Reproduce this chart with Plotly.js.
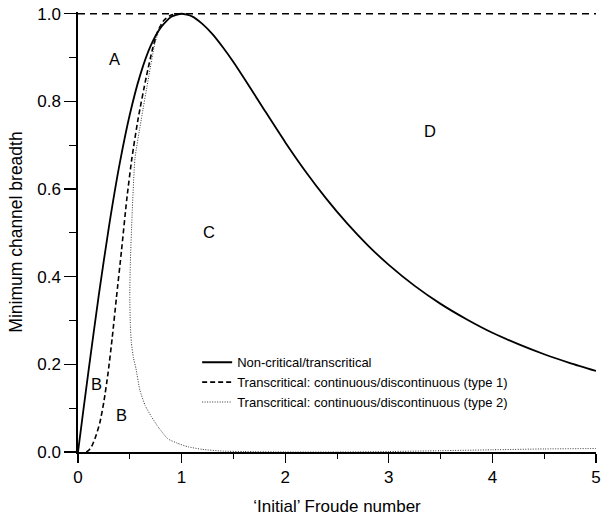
<!DOCTYPE html>
<html>
<head>
<meta charset="utf-8">
<script src="https://cdn.plot.ly/plotly-3.0.1.min.js"></script>
<style>html,body{margin:0;padding:0;background:#fff;}#chart{width:602px;height:518px;}</style>
</head>
<body>
<div id="chart"></div>
<script>
// Non-critical/transcritical boundary (solid)
const xSolid = [0,0.05,0.1,0.2,0.3,0.4,0.5,0.6,0.7,0.8,0.9,1.0,1.1,1.2,1.3,1.4,1.5,1.6,1.8,2.0,2.2,2.4,2.6,2.8,3.0,3.25,3.5,3.75,4.0,4.25,4.5,4.75,5.0];
const ySolid = [0,0.092,0.182,0.357,0.516,0.655,0.770,0.860,0.926,0.969,0.993,1.0,0.994,0.977,0.953,0.923,0.890,0.854,0.780,0.707,0.639,0.577,0.521,0.471,0.427,0.379,0.338,0.303,0.272,0.246,0.223,0.203,0.185];

// Transcritical continuous/discontinuous type 1 (dashed)
const xType1 = [0.08,0.1,0.13,0.17,0.21,0.25,0.29,0.33,0.37,0.42,0.47,0.52,0.58,0.66,0.72,0.77,0.83,0.9,1.0];
const yType1 = [0,0.003,0.012,0.035,0.066,0.115,0.18,0.26,0.35,0.46,0.575,0.67,0.76,0.857,0.92,0.96,0.985,0.997,1.0];

// Upper dashed limit (breadth = 1)
const xUpper = [0,5];
const yUpper = [1,1];

// Transcritical continuous/discontinuous type 2 (dotted)
const xType2 = [0.80,0.74,0.683,0.61,0.55,0.522,0.505,0.50,0.505,0.515,0.535,0.56,0.596,0.65,0.708,0.78,0.868,0.96,1.06,1.2,1.4,1.6,2.0,2.5,3.0,3.5,4.0,4.5,5.0];
const yType2 = [0.975,0.93,0.857,0.758,0.67,0.54,0.43,0.36,0.29,0.25,0.215,0.19,0.142,0.105,0.081,0.055,0.03,0.02,0.012,0.006,0.002,0.001,0,0,0.001,0.003,0.005,0.007,0.008];

// Region labels
const labelText = ['A','B','B','C','D'];
const labelX = [0.355,0.18,0.42,1.26,3.4];
const labelY = [0.897,0.155,0.085,0.502,0.733];

const seriesNames = ['Non-critical/transcritical','Transcritical: continuous/discontinuous (type 1)','Transcritical: continuous/discontinuous (type 2)'];

const font = 'Liberation Sans, Arial, Helvetica, sans-serif';

const traces = [
  {x:xSolid, y:ySolid, mode:'lines', name:seriesNames[0], line:{color:'#000', width:1.8, shape:'spline', smoothing:0.6}},
  {x:xType1, y:yType1, mode:'lines', name:seriesNames[1], line:{color:'#000', width:1.6, dash:'5px,3px', shape:'spline', smoothing:0.6}},
  {x:xType2, y:yType2, mode:'lines', name:seriesNames[2], line:{color:'#333', width:1, dash:'1px,1.5px', shape:'spline', smoothing:0.5}},
  {x:xUpper, y:yUpper, mode:'lines', showlegend:false, hoverinfo:'skip', line:{color:'#000', width:1.6, dash:'7px,5px'}}
];

const annotations = labelText.map((t,i)=>({x:labelX[i], y:labelY[i], xref:'x', yref:'y', text:t, showarrow:false, font:{family:font, size:16.5, color:'#000'}}));

const layout = {
  width:602, height:518,
  margin:{l:78, r:6, t:12, b:66},
  paper_bgcolor:'#fff', plot_bgcolor:'#fff',
  font:{family:font, color:'#000', size:16},
  showlegend:true,
  legend:{x:0.23, y:0.238, xanchor:'left', yanchor:'top', bgcolor:'rgba(0,0,0,0)', font:{family:font, size:13, color:'#000'}, tracegroupgap:0, itemwidth:30},
  xaxis:{range:[0,5], showgrid:false, zeroline:false, showline:true, linecolor:'#000', linewidth:1.6,
    ticks:'outside', tickcolor:'#000', ticklen:9, tickwidth:1.4, dtick:1, tick0:0,
    minor:{ticks:'outside', ticklen:5, tickcolor:'#000', tickwidth:1, dtick:0.5, showgrid:false},
    tickfont:{family:font, size:17}, title:{text:'\u2018Initial\u2019 Froude number', font:{family:font, size:17}, standoff:14}},
  yaxis:{range:[0,1.004], showgrid:false, zeroline:false, showline:true, linecolor:'#000', linewidth:1.6,
    ticks:'outside', tickcolor:'#000', ticklen:12, tickwidth:1.4, dtick:0.2, tick0:0, tickformat:'.1f',
    minor:{ticks:'outside', ticklen:7, tickcolor:'#000', tickwidth:1, dtick:0.1, showgrid:false},
    tickfont:{family:font, size:17}, title:{text:'Minimum channel breadth', font:{family:font, size:17.5}, standoff:10}},
  annotations:annotations
};

Plotly.newPlot('chart', traces, layout, {displayModeBar:false, staticPlot:true});
</script>
</body>
</html>
